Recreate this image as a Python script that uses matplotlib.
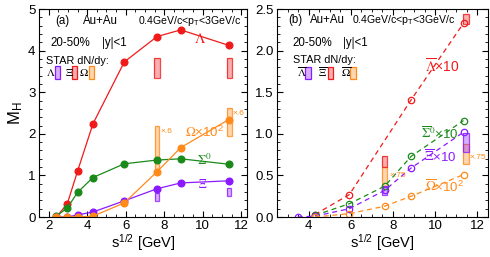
import matplotlib
matplotlib.use('Agg')
import matplotlib.pyplot as plt
from matplotlib.patches import Rectangle
from matplotlib.ticker import MultipleLocator

plt.rcParams['font.family'] = ['Liberation Sans', 'DejaVu Sans']

# colours
RED = '#f01a1a'
GREEN = '#1a8a1a'
PURPLE = '#8c1aff'
ORANGE = '#ff8a1a'

# ---- panel (a): hyperons, solid lines ----
sqrt_s = [2.4, 2.97, 3.5, 4.3, 5.93, 7.63, 8.86, 11.34]
lam = [0.0, 0.32, 1.1, 2.24, 3.73, 4.34, 4.5, 4.13]
sig0 = [0.02, 0.22, 0.59, 0.95, 1.28, 1.37, 1.4, 1.27]
xi = [0.0, 0.0, 0.05, 0.12, 0.39, 0.68, 0.82, 0.87]
omega = [0.0, 0.0, 0.0, 0.02, 0.34, 1.09, 1.67, 2.34]

# STAR dN/dy boxes (panel a): energies, low, high
star_x = [7.63, 11.38]
star_lam_lo = [0.39, 0.5]
star_lam_hi = [0.58, 0.69]
star_xi_lo = [3.35, 3.35]
star_xi_hi = [3.83, 3.83]
star_om_lo = [1.03, 1.95]
star_om_hi = [2.19, 2.62]

# ---- panel (b): anti-hyperons, dashed lines ----
sqrt_s_alam = [4.3, 5.93, 8.86, 11.34]
alam = [0.03, 0.27, 1.41, 2.33]
sqrt_s_asig = [4.3, 5.93, 7.6, 8.86, 11.34]
asig = [0.02, 0.16, 0.37, 0.73, 1.16]
sqrt_s_axi = [3.48, 4.3, 5.93, 7.6, 8.86, 11.34]
axi = [0.0, 0.01, 0.1, 0.32, 0.59, 1.02]
sqrt_s_aom = [4.3, 5.93, 7.6, 8.86, 11.34]
aom = [0.0, 0.04, 0.13, 0.25, 0.51]

star_bx = [7.6, 11.45]
star_alam_lo = [0.26, 0.78]
star_alam_hi = [0.37, 1.01]
star_axi_lo = [0.6, 2.32]
star_axi_hi = [0.73, 2.44]
star_aom_lo = [0.36, 0.64]
star_aom_hi = [0.6, 0.88]


def box(ax, xc, lo, hi, color, w=0.26, **kw):
    ax.add_patch(Rectangle((xc - w / 2, lo), w, hi - lo, facecolor=color,
                           alpha=0.35, edgecolor='none', **kw))
    ax.add_patch(Rectangle((xc - w / 2, lo), w, hi - lo, facecolor='none',
                           edgecolor=color, lw=0.9, alpha=0.8, **kw))


def style(ax):
    ax.tick_params(which='both', direction='in', top=True, right=True, labelsize=9.5)
    ax.tick_params(which='major', length=4, width=0.8, pad=2.5)
    ax.tick_params(which='minor', length=2, width=0.6)
    for s in ax.spines.values():
        s.set_linewidth(0.8)


fig = plt.figure(figsize=(4.9, 2.57), dpi=100)
ax1 = fig.add_axes([0.0796, 0.1556, 0.4245, 0.809])
ax2 = fig.add_axes([0.5653, 0.1556, 0.4306, 0.809])

# panel (a)
ms = 4.8
ax1.plot(sqrt_s, lam, '-o', color=RED, lw=0.9, ms=ms)
ax1.plot(sqrt_s, sig0, '-o', color=GREEN, lw=0.9, ms=ms)
ax1.plot(sqrt_s, xi, '-o', color=PURPLE, lw=0.9, ms=ms)
ax1.plot(sqrt_s, omega, '-o', color=ORANGE, lw=0.9, ms=ms)
for i in range(len(star_x)):
    box(ax1, star_x[i], star_lam_lo[i], star_lam_hi[i], PURPLE, w=0.22)
    box(ax1, star_x[i], star_xi_lo[i], star_xi_hi[i], RED, w=0.28)
    box(ax1, star_x[i], star_om_lo[i], star_om_hi[i], ORANGE, w=0.24)

ax1.set_xlim(1.5, 12.3)
ax1.set_ylim(0, 5)
ax1.xaxis.set_major_locator(MultipleLocator(2))
ax1.xaxis.set_minor_locator(MultipleLocator(0.5))
ax1.yaxis.set_major_locator(MultipleLocator(1))
ax1.yaxis.set_minor_locator(MultipleLocator(0.2))
style(ax1)
ax1.set_xlabel(r'$\mathregular{s^{1/2}}$ [GeV]', fontsize=10.5, labelpad=0)
ax1.set_ylabel(r'$\mathregular{M_H}$', fontsize=12, labelpad=2)

mf = dict(math_fontfamily='stix')
ax1.text(9.88, 4.28, r'$\Lambda$', color=RED, fontsize=10.5, ha='center', va='center', **mf)
ax1.text(9.1, 2.03, r'$\Omega\mathregular{\times10^2}$', color=ORANGE, fontsize=9.5, va='center', **mf)
ax1.text(9.7, 1.37, r'$\Sigma^0$', color=GREEN, fontsize=9.5, va='center', **mf)
ax1.text(9.75, 0.79, r'$\Xi$', color=PURPLE, fontsize=8.5, va='center', **mf)
ax1.text(7.78, 2.05, '×.6', color=ORANGE, fontsize=6, va='center')
ax1.text(11.55, 2.49, '×.6', color=ORANGE, fontsize=6, va='center')

tk = dict(transform=ax1.transAxes, fontsize=8.3, va='center')
ax1.text(0.077, 0.942, '(a)', **tk)
ax1.text(0.21, 0.942, 'Au+Au', **tk)
ax1.text(0.976, 0.942, r'0.4GeV/c<p$_\mathregular{T}$<3GeV/c', ha='right',
         transform=ax1.transAxes, fontsize=7.6, va='center')
ax1.text(0.053, 0.837, '20-50%', **tk)
ax1.text(0.303, 0.837, '|y|<1', **tk)
ax1.text(0.034, 0.748, 'STAR dN/dy:', transform=ax1.transAxes, fontsize=7.8, va='center')
ax1.text(0.034, 0.695, r'$\Lambda$', transform=ax1.transAxes, fontsize=8, va='center', **mf)
ax1.text(0.125, 0.695, r'$\Xi$', transform=ax1.transAxes, fontsize=8, va='center', **mf)
ax1.text(0.194, 0.695, r'$\Omega$', transform=ax1.transAxes, fontsize=8, va='center', **mf)
for x0, c in [(0.077, PURPLE), (0.157, RED), (0.24, ORANGE)]:
    ax1.add_patch(Rectangle((x0, 0.665), 0.024, 0.06, transform=ax1.transAxes,
                            facecolor=c, alpha=0.35, edgecolor='none'))
    ax1.add_patch(Rectangle((x0, 0.665), 0.024, 0.06, transform=ax1.transAxes,
                            facecolor='none', edgecolor=c, lw=0.9))

# panel (b)
dash = dict(ls=(0, (4, 3)), lw=0.9, marker='o', ms=4.6, mfc='none', mew=0.9)
ax2.plot(sqrt_s_alam, alam, color=RED, **dash)
ax2.plot(sqrt_s_asig, asig, color=GREEN, **dash)
ax2.plot(sqrt_s_axi, axi, color=PURPLE, **dash)
ax2.plot(sqrt_s_aom, aom, color=ORANGE, **dash)
for i in range(len(star_bx)):
    box(ax2, star_bx[i], star_aom_lo[i], star_aom_hi[i], ORANGE, w=0.26)
    box(ax2, star_bx[i], star_axi_lo[i], star_axi_hi[i], RED, w=0.26)
    box(ax2, star_bx[i], star_alam_lo[i], star_alam_hi[i], PURPLE, w=0.26)

ax2.set_xlim(2.5, 12.5)
ax2.set_ylim(0, 2.5)
ax2.xaxis.set_major_locator(MultipleLocator(2))
ax2.xaxis.set_minor_locator(MultipleLocator(0.5))
ax2.yaxis.set_major_locator(MultipleLocator(0.5))
ax2.yaxis.set_minor_locator(MultipleLocator(0.1))
ax2.yaxis.set_major_formatter(plt.FormatStrFormatter('%.1f'))
style(ax2)
ax2.set_xlabel(r'$\mathregular{s^{1/2}}$ [GeV]', fontsize=10.5, labelpad=0)

ax2.text(9.51, 1.81, r'$\overline{\Lambda}\mathregular{\times10}$', color=RED, fontsize=10, va='center', **mf)
ax2.text(9.32, 1.0, r'$\overline{\Sigma}^0\mathregular{\times10}$', color=GREEN, fontsize=9.5, va='center', **mf)
ax2.text(9.47, 0.72, r'$\overline{\Xi}\mathregular{\times10}$', color=PURPLE, fontsize=9.5, va='center', **mf)
ax2.text(9.51, 0.36, r'$\overline{\Omega}\mathregular{\times10^2}$', color=ORANGE, fontsize=9.5, va='center', **mf)
ax2.text(7.82, 0.5, '×.75', color=ORANGE, fontsize=6, va='center')
ax2.text(11.62, 0.71, '×.75', color=ORANGE, fontsize=6, va='center')

tk2 = dict(transform=ax2.transAxes, fontsize=8.3, va='center')
ax2.text(0.052, 0.947, '(b)', **tk2)
ax2.text(0.156, 0.947, 'Au+Au', **tk2)
ax2.text(0.355, 0.947, r'0.4GeV/c<p$_\mathregular{T}$<3GeV/c', transform=ax2.transAxes,
         fontsize=7.6, va='center')
ax2.text(0.071, 0.837, '20-50%', **tk2)
ax2.text(0.313, 0.837, '|y|<1', **tk2)
ax2.text(0.076, 0.755, 'STAR dN/dy:', transform=ax2.transAxes, fontsize=7.8, va='center')
ax2.text(0.097, 0.695, r'$\overline{\Lambda}$', transform=ax2.transAxes, fontsize=8, va='center', **mf)
ax2.text(0.196, 0.695, r'$\overline{\Xi}$', transform=ax2.transAxes, fontsize=8, va='center', **mf)
ax2.text(0.303, 0.695, r'$\overline{\Omega}$', transform=ax2.transAxes, fontsize=8, va='center', **mf)
for x0, c in [(0.133, PURPLE), (0.24, RED), (0.346, ORANGE)]:
    ax2.add_patch(Rectangle((x0, 0.665), 0.027, 0.056, transform=ax2.transAxes,
                            facecolor=c, alpha=0.35, edgecolor='none'))
    ax2.add_patch(Rectangle((x0, 0.665), 0.027, 0.056, transform=ax2.transAxes,
                            facecolor='none', edgecolor=c, lw=0.9))

fig.savefig('out.png', dpi=100)
